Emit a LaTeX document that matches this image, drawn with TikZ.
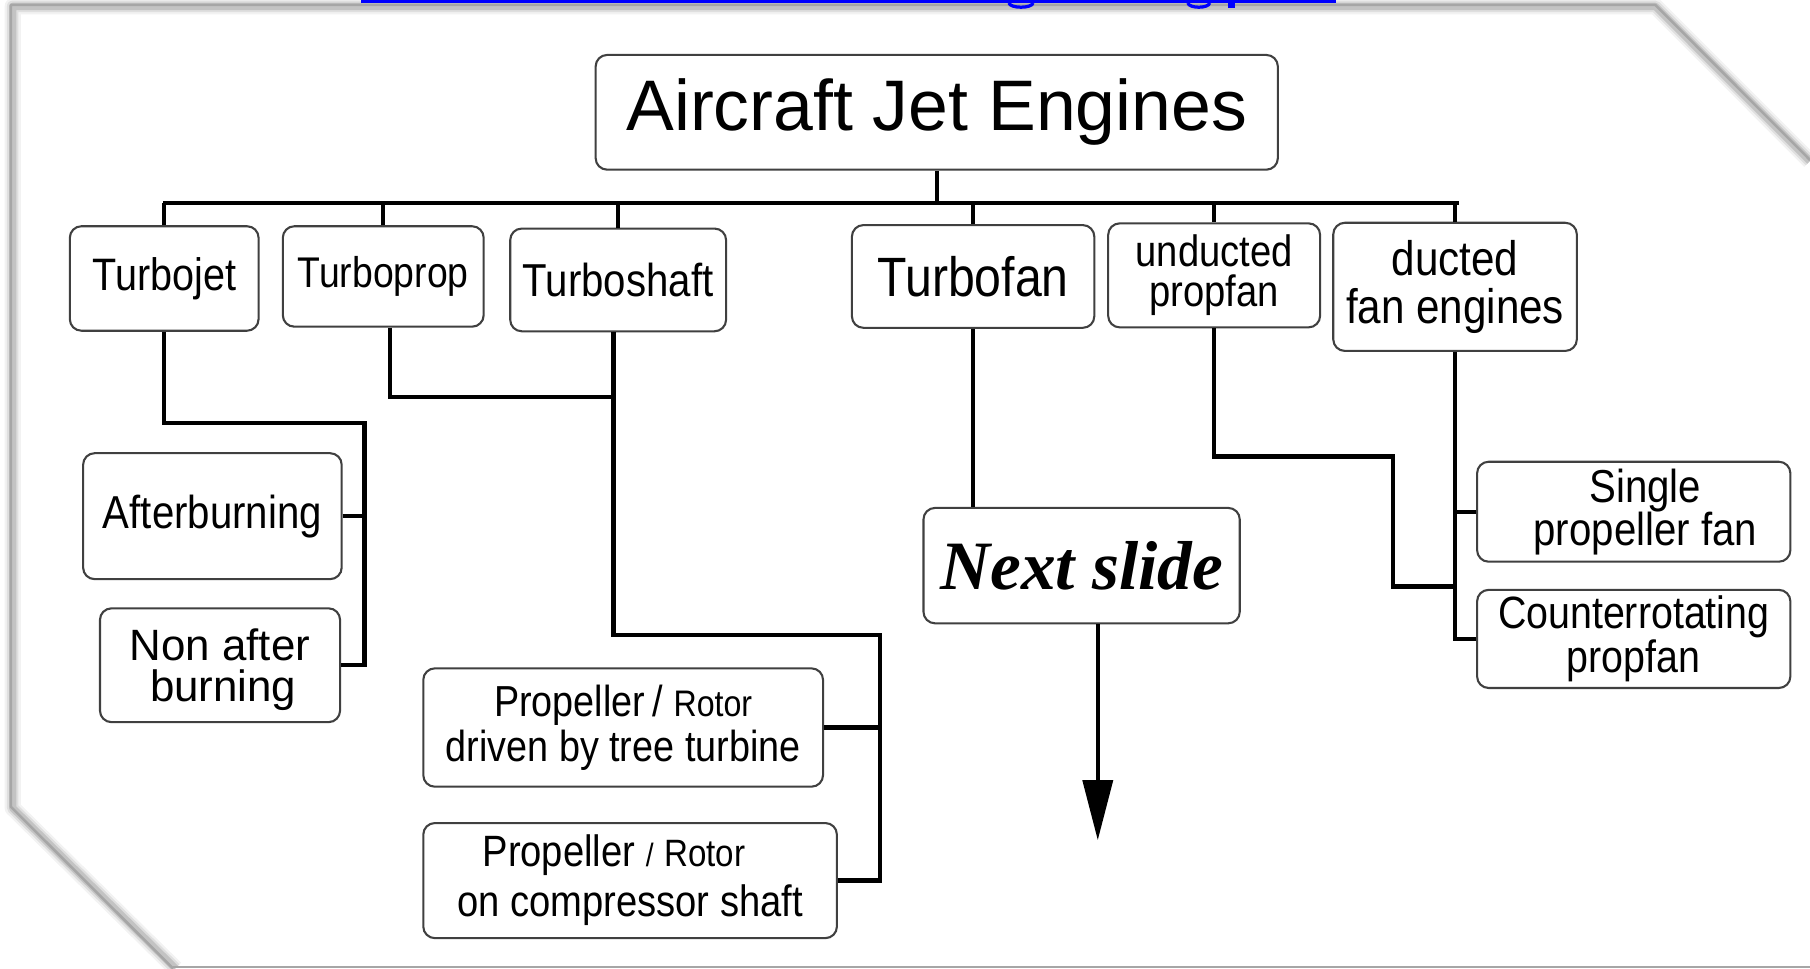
\documentclass[tikz,border=0pt]{standalone}
\usepackage{fontspec}
\setmainfont{Liberation Sans}
\newfontfamily\cf{Liberation Sans}[FakeStretch=0.87]
\newfontfamily\scr{Liberation Serif}
\usetikzlibrary{arrows.meta}
\setlength\lineskiplimit{-30pt}
\tikzset{
  box/.style={draw=black!75, line width=0.9pt, rounded corners=5pt, inner sep=0pt, align=center, fill=white},
  conn/.style={line width=1.9pt, black},
  framel/.style={gray!70, line width=1.1pt},
}
\newcommand\bx[7][]{\node[box, minimum width={(#4-#2)*0.5pt}, minimum height={(#5-#3)*0.5pt}, #1] (#6) at ({(#2+#4)/2},{(#3+#5)/2}) {#7};}
\begin{document}
\begin{tikzpicture}[x=0.5pt,y=-0.5pt]
\useasboundingbox (0,0) rectangle (1568,839);
\fill[white] (0,0) rectangle (1568,839);
% frame with soft shadow
\foreach \w/\o in {7/0.05,5/0.08,3.2/0.12}{
  \draw[black, opacity=\o, line width=\w pt, line join=round] (152,839) -- (11,700) -- (11,5.5) -- (1434,5.5) -- (1568,139.6);
}
\draw[framel, line join=round] (150,839) -- (9.5,699) -- (9.5,4.3) -- (1434,4.3) -- (1568,138.6);
\draw[framel] (150,837.8) -- (1568,837.8);
% blue link remnants
\fill[blue] (312.7,0) rectangle (1157.4,2.9);
\draw[blue, line width=1.4pt] (874,2.5) .. controls (875,7.5) and (894,7.5) .. (895,2.5);
\draw[blue, line width=1.4pt] (1029,2.5) .. controls (1030,7.5) and (1047,7.5) .. (1048,2.5);
\fill[blue] (1064,0) rectangle (1070,6.8);

% boxes
\bx[font={\fontsize{31}{36}\selectfont}]{516}{47.6}{1107}{147}{title}{Aircraft Jet Engines}
\bx[font={\cf\fontsize{19.7}{22}\selectfont}]{60.5}{196}{224}{286.5}{tj}{Turbojet}
\bx[font={\cf\fontsize{18.6}{22}\selectfont}]{245}{196}{419}{283}{tp}{Turboprop}
\bx[font={\cf\fontsize{20}{22}\selectfont}]{442}{198}{629}{287}{ts}{Turboshaft}
\bx[font={\cf\fontsize{24}{26}\selectfont}]{738}{195}{948}{284}{tf}{Turbofan}
\bx[font={\cf\fontsize{19}{17.5}\selectfont}]{960}{193.5}{1143.6}{283.6}{up}{unducted\\propfan}
\bx[font={\cf\fontsize{21}{21}\selectfont}]{1155}{193}{1366}{304}{df}{ducted\\fan engines}
\bx[font={\cf\fontsize{20}{22}\selectfont}]{72}{392.6}{296}{501.7}{ab}{Afterburning}
\bx[align=right, font={\fontsize{19}{17.5}\selectfont}, text depth=0pt]{86.6}{527}{294.6}{625.6}{nab}{Non after\\burning\hspace*{6pt}}
\bx[font={\cf\fontsize{18.8}{19.5}\selectfont}]{366.7}{579}{713}{681.5}{pr1}{Propeller\,/ {\fontsize{16}{19}\selectfont Rotor}\\driven by tree turbine}
\bx[font={\cf\fontsize{19}{21.7}\selectfont}]{366.7}{713}{725}{812.7}{pr2}{Propeller {\fontsize{14}{19}\selectfont /} {\fontsize{16.5}{19}\selectfont Rotor}\hspace*{14pt}\\on compressor shaft}
\bx[font={\scr\bfseries\itshape\fontsize{30}{32}\selectfont}]{800}{440}{1074}{540}{ns}{Next slide}
\bx[font={\cf\fontsize{20}{18.5}\selectfont}]{1279.6}{400}{1551}{486.6}{sp}{\hspace*{10pt}Single\\\hspace*{10pt}propeller fan}
\bx[font={\cf\fontsize{19.6}{19}\selectfont}]{1279.6}{511}{1551}{596}{cr}{Counterrotating\\propfan}

% bus
\coordinate (busL) at (143,175.6);
\coordinate (busR) at (1262,175.6);
\draw[conn, line cap=rect] (busL) -- (busR);
\draw[conn] (title.south) -- (title.south |- busL);
\foreach \n in {tj,tp,ts,tf,up,df}{
  \draw[conn] (\n.north) -- (\n.north |- busL);
}
% turbojet branch
\coordinate (tjR) at (315.6,366.7);
\draw[conn] (tj.south) |- (tjR) -- (tjR |- nab.east) -- (nab.east);
\draw[conn] (ab.east) -- (ab.east -| tjR);
% turboprop / turboshaft
\coordinate (tpd) at (338,0);
\coordinate (tsd) at (531.6,0);
\coordinate (j1) at (531.6,343.7);
\coordinate (tsc) at (762.4,550);
\draw[conn] (tp.south -| tpd) |- (j1);
\draw[conn] (ts.south -| tsd) |- (tsc) -- (tsc |- pr2.east) -- (pr2.east);
\draw[conn] (pr1.east) -- (pr1.east -| tsc);
% turbofan
\draw[conn] (tf.south) -- (tf.south |- ns.north);
\coordinate (ar) at (951,727.8);
\draw[line width=1.6pt, -{Triangle[length=26pt, width=13pt]}] (ns.south -| ar) -- (ar);
% unducted
\coordinate (u1) at (1207,395.6);
\coordinate (u2) at (1207,508);
\draw[conn] (up.south) |- (u1) -- (u2) -- (u2 -| df.south);
% ducted
\draw[conn] (df.south) -- (df.south |- cr.west) -- (cr.west);
\draw[conn] (sp.west) -- (sp.west -| df.south);
\end{tikzpicture}
\end{document}
